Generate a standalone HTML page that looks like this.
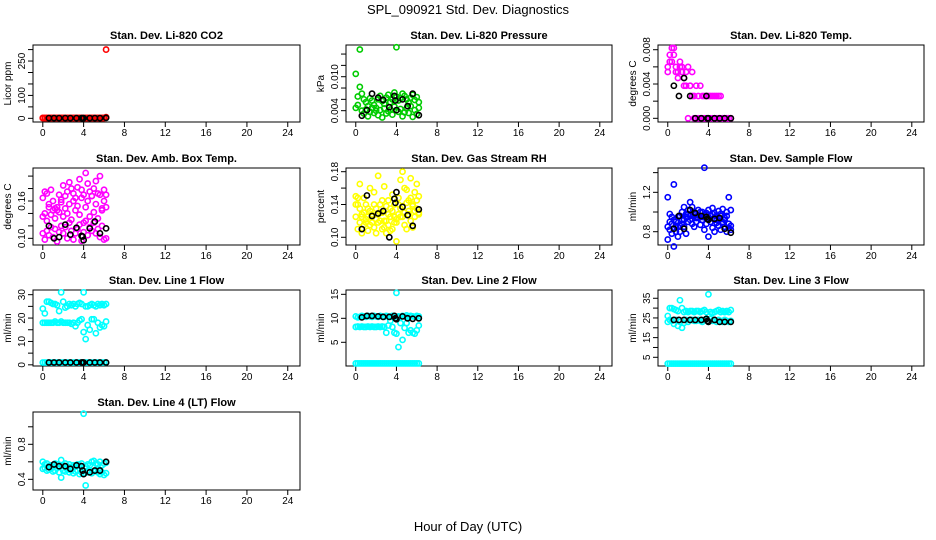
<!DOCTYPE html>
<html><head><meta charset="utf-8">
<style>
html,body{margin:0;padding:0;background:#fff;}
svg{display:block;font-family:"Liberation Sans",sans-serif;}
</style></head>
<body>
<svg id="chart" width="936" height="540" viewBox="0 0 936 540" xmlns="http://www.w3.org/2000/svg">
<rect x="0" y="0" width="936" height="540" fill="#fff"/>
<text x="468" y="14" font-size="13" text-anchor="middle">SPL_090921  Std. Dev. Diagnostics</text>
<text x="468" y="531" font-size="13" text-anchor="middle">Hour of Day (UTC)</text>
</svg>
<script>
const T=[0.0,0.2,0.4,0.6,0.8,1.0,1.2,1.4,1.6,1.8,2.0,2.2,2.4,2.6,2.8,3.0,3.2,3.4,3.6,3.8,4.0,4.2,4.4,4.6,4.8,5.0,5.2,5.4,5.6,5.8,6.0,6.2];
const TB=[0.6,1.1,1.6,2.2,2.7,3.3,3.8,3.9,4.0,4.6,5.1,5.6,6.2];
const xTicks=[0,4,8,12,16,20,24];

const co2S1=[1,1,1,1,1,1,1,1,1,1,1,1,1,1,1,1,1,1,1,1,1,1,1,1,1,1,1,1,1,1,1,300];
const co2S2=[2,2,2,2,2,2,2,2,2,2,2,2,2,2,2,2,2,2,2,2,2,2,2,2,2,2,2,2,2,2,2,5];
const co2B=[1,1,1,1,1,1,1,1,1,1,1,1,2];

const presS1=[0.0105,0.0065,0.0082,0.0070,0.0060,0.0055,0.0048,0.0062,0.0058,0.0050,0.0045,0.0060,0.0066,0.0057,0.0052,0.0063,0.0068,0.0055,0.0060,0.0072,0.0065,0.0058,0.0062,0.0070,0.0066,0.0060,0.0054,0.0063,0.0068,0.0059,0.0064,0.0055];
const presS2=[0.0045,0.0050,0.0148,0.0040,0.0035,0.0042,0.0030,0.0038,0.0045,0.0036,0.0040,0.0032,0.0041,0.0028,0.0044,0.0035,0.0039,0.0042,0.0033,0.0047,0.0152,0.0038,0.0043,0.0030,0.0037,0.0044,0.0036,0.0048,0.0029,0.0041,0.0034,0.0045];
const presB=[0.0031,0.0041,0.0070,0.0063,0.0059,0.0046,0.0066,0.0058,0.0041,0.0060,0.0048,0.0070,0.0032];

const tempS1=[0.0054,0.0074,0.0066,0.0082,0.0060,0.0054,0.0066,0.0060,0.0047,0.0054,0.0060,0.0038,0.0054,0.0026,0.0038,0.0026,0.0038,0.0026,0.0026,0.0026,0.0026,0.0026,0.0026,0.0026,0.0026,0.0026,0.0026,0,0,0,0,0];
const tempS2=[0.0060,0.0066,0.0082,0.0074,0.0054,0.0047,0.0060,0.0054,0.0038,0.0038,0,0.0038,0.0026,0,0,0,0,0,0,0,0,0,0,0,0,0,0,0,0,0,0,0];
const tempB=[0.0038,0.0026,0.0047,0.0026,0,0,0.0026,0,0,0,0,0,0];

const ambS1=[0.165,0.175,0.172,0.150,0.178,0.160,0.148,0.145,0.170,0.162,0.185,0.168,0.175,0.190,0.180,0.172,0.165,0.182,0.195,0.178,0.170,0.205,0.188,0.175,0.168,0.180,0.192,0.172,0.200,0.145,0.178,0.170];
const ambS2=[0.108,0.098,0.112,0.105,0.118,0.102,0.115,0.095,0.110,0.120,0.108,0.118,0.100,0.125,0.112,0.098,0.108,0.115,0.122,0.096,0.110,0.128,0.105,0.118,0.112,0.125,0.108,0.115,0.102,0.120,0.098,0.100];
const ambS3=[0.135,0.140,0.128,0.155,0.138,0.145,0.132,0.150,0.142,0.158,0.135,0.148,0.140,0.155,0.130,0.160,0.145,0.152,0.138,0.165,0.125,0.150,0.160,0.135,0.168,0.142,0.155,0.132,0.170,0.148,0.160,0.150];
const ambB=[0.120,0.100,0.102,0.122,0.106,0.117,0.104,0.103,0.097,0.116,0.127,0.108,0.116];

const rhS1=[0.150,0.140,0.165,0.125,0.148,0.118,0.135,0.160,0.128,0.155,0.122,0.175,0.140,0.130,0.162,0.120,0.145,0.135,0.152,0.125,0.095,0.140,0.170,0.180,0.130,0.158,0.145,0.172,0.138,0.155,0.165,0.150];
const rhS2=[0.125,0.110,0.118,0.105,0.130,0.122,0.108,0.115,0.125,0.112,0.105,0.118,0.130,0.110,0.120,0.105,0.115,0.125,0.110,0.118,0.122,0.128,0.135,0.125,0.115,0.110,0.132,0.120,0.112,0.125,0.135,0.128];
const rhS3=[0.140,0.148,0.135,0.128,0.115,0.140,0.125,0.132,0.118,0.140,0.135,0.128,0.120,0.145,0.112,0.138,0.128,0.108,0.132,0.140,0.118,0.148,0.125,0.138,0.160,0.142,0.128,0.148,0.140,0.132,0.145,0.130];
const rhB=[0.110,0.151,0.126,0.129,0.132,0.100,0.147,0.142,0.155,0.137,0.127,0.114,0.134];

const sfS1=[1.15,0.98,0.95,1.28,0.90,0.85,0.96,1.00,0.92,0.98,1.02,1.10,1.05,1.00,0.98,1.02,0.95,1.00,1.45,0.93,1.02,0.97,1.04,0.99,0.92,1.01,0.96,1.03,0.94,1.00,1.15,1.02];
const sfS2=[0.72,0.82,0.78,0.65,0.86,0.75,0.80,0.88,0.85,0.78,0.90,0.92,0.88,0.85,0.90,0.94,0.87,0.92,0.82,0.88,0.75,0.90,0.84,0.80,0.89,0.86,0.82,0.88,0.85,0.80,0.84,0.82];
const sfS3=[0.85,0.90,0.88,0.92,0.80,0.95,0.86,0.92,1.05,0.95,0.98,0.96,0.93,0.98,0.94,0.97,1.00,0.95,0.97,0.99,0.93,0.96,0.98,0.92,0.96,0.94,0.98,0.90,0.92,0.96,0.88,0.86];
const sfB=[0.83,0.96,0.83,1.02,0.99,0.96,0.95,0.93,0.92,0.93,0.94,0.83,0.79];

const l1S1=[1,1,1,1,1,1,1,1,1,1,1,1,1,1,1,1,1,1,1,1,1,1,1,1,1,1,1,1,1,1,1,1];
const l1S2=[18,18,18,18,18,18,18.5,18,18,18.5,18,18,18,18,17.5,18,16.5,18,19,19.5,14,11,17,15,19.5,19.5,13.5,18,16,17,16.5,18.5];
const l1S3=[24,22,27,27,26.5,26,26,25.5,23,31,27,24.5,25,26,25.5,26,25,26,26.5,26,31,25,25,25.5,26,25.5,25,26,25.5,26,25.5,26];
const l1B=[1,1,1,1,1,1,1,1,1,1,1,1,1];

const l2S1=[0.6,0.6,0.6,0.6,0.6,0.6,0.6,0.6,0.6,0.6,0.6,0.6,0.6,0.6,0.6,0.6,0.6,0.6,0.6,0.6,0.6,0.6,0.6,0.6,0.6,0.6,0.6,0.6,0.6,0.6,0.6,0.6];
const l2S2=[8.2,8.3,8.2,8.3,8.2,8.2,8.3,8.2,8.3,8.2,8.2,8.3,8.2,8.3,8.2,7.0,8.5,9.5,8.2,7.0,6.8,4.0,9.0,5.5,8.0,9.0,7.0,7.5,7.0,6.8,7.5,8.5];
const l2S3=[10.4,10.2,10.3,10.5,10.4,10.3,10.5,10.4,10.3,10.5,10.4,10.3,10.5,10.4,10.3,10.5,10.4,10.3,10.5,10.3,15.3,10.4,10.3,10.5,10.4,10.6,10.3,10.5,10.4,10.3,10.5,10.4];
const l2B=[10.2,10.5,10.5,10.4,10.3,10.3,10.5,10.0,9.8,10.4,10.0,9.9,10.0];

const l3S1=[1.8,1.8,1.8,1.8,1.8,1.8,1.8,1.8,1.8,1.8,1.8,1.8,1.8,1.8,1.8,1.8,1.8,1.8,1.8,1.8,1.8,1.8,1.8,1.8,1.8,1.8,1.8,1.8,1.8,1.8,1.8,1.8];
const l3S2=[26,30,30,29.5,29,28.5,34,30,28,28.5,28,28.5,28.5,28,28.5,28.5,28,28.5,29,28,37,28,27.5,28,28.5,29,28,28.5,28,28.5,28,29];
const l3S3=[23,24,23.5,22,24,21,23,20,22.5,24,23,24,24,23.5,23.5,24,23.5,23,24,24.5,23,24.5,23.5,24,23,24,23.5,23,24,23.5,23,23.5];
const l3B=[24,24,24,24,24,24,24.5,23.5,23,24,23,23,23];

const l4S1=[0.60,0.57,0.58,0.55,0.56,0.54,0.58,0.57,0.55,0.62,0.56,0.58,0.55,0.57,0.54,0.56,0.55,0.57,0.56,0.58,1.15,0.55,0.57,0.56,0.60,0.61,0.58,0.57,0.60,0.56,0.58,0.59];
const l4S2=[0.52,0.53,0.50,0.51,0.52,0.49,0.50,0.53,0.48,0.42,0.50,0.49,0.51,0.48,0.50,0.47,0.49,0.50,0.46,0.48,0.47,0.33,0.48,0.50,0.47,0.49,0.50,0.48,0.46,0.48,0.45,0.47];
const l4B=[0.54,0.57,0.55,0.55,0.52,0.56,0.55,0.50,0.46,0.48,0.50,0.50,0.60];

const panels=[
 {name:'co2',title:'Stan. Dev. Li-820 CO2',yl:'Licor ppm',col:0,row:0,ymin:-16,ymax:320,ticks:[0,50,100,150,200,250,300],labels:[0,100,250],color:'#ff0000',series:[co2S1,co2S2],black:co2B},
 {name:'pressure',title:'Stan. Dev. Li-820 Pressure',yl:'kPa',col:1,row:0,ymin:0.002,ymax:0.0156,ticks:[0.004,0.006,0.008,0.010,0.012,0.014],labels:['0.004','0.010'],color:'#00cc00',series:[presS1,presS2],black:presB},
 {name:'li820-temp',title:'Stan. Dev. Li-820 Temp.',yl:'degrees C',col:2,row:0,ymin:-0.00043,ymax:0.00855,ticks:[0,0.002,0.004,0.006,0.008],labels:['0.000','0.004','0.008'],color:'#ff00ff',series:[tempS1,tempS2],black:tempB},
 {name:'amb-box-temp',title:'Stan. Dev. Amb. Box Temp.',yl:'degrees C',col:0,row:1,ymin:0.0893,ymax:0.213,ticks:[0.10,0.12,0.14,0.16,0.18,0.20],labels:['0.10','0.16'],color:'#ff00ff',series:[ambS1,ambS2,ambS3],black:ambB},
 {name:'gas-stream-rh',title:'Stan. Dev. Gas Stream RH',yl:'percent',col:1,row:1,ymin:0.0906,ymax:0.1845,ticks:[0.10,0.12,0.14,0.16,0.18],labels:['0.10','0.14','0.18'],color:'#ffff00',series:[rhS1,rhS2,rhS3],black:rhB},
 {name:'sample-flow',title:'Stan. Dev. Sample Flow',yl:'ml/min',col:2,row:1,ymin:0.665,ymax:1.447,ticks:[0.8,1.0,1.2,1.4],labels:['0.8','1.2'],color:'#0000ff',series:[sfS1,sfS2,sfS3],black:sfB},
 {name:'line1-flow',title:'Stan. Dev. Line 1 Flow',yl:'ml/min',col:0,row:2,ymin:-0.5,ymax:32,ticks:[0,5,10,15,20,25,30],labels:[0,10,20,30],color:'#00ffff',series:[l1S1,l1S2,l1S3],black:l1B},
 {name:'line2-flow',title:'Stan. Dev. Line 2 Flow',yl:'ml/min',col:1,row:2,ymin:0.06,ymax:15.9,ticks:[5,10,15],labels:[5,10,15],color:'#00ffff',series:[l2S1,l2S2,l2S3],black:l2B},
 {name:'line3-flow',title:'Stan. Dev. Line 3 Flow',yl:'ml/min',col:2,row:2,ymin:0.58,ymax:39.2,ticks:[5,10,15,20,25,30,35],labels:[5,15,25,35],color:'#00ffff',series:[l3S1,l3S2,l3S3],black:l3B},
 {name:'line4-flow',title:'Stan. Dev. Line 4 (LT) Flow',yl:'ml/min',col:0,row:3,ymin:0.278,ymax:1.169,ticks:[0.4,0.6,0.8,1.0],labels:['0.4','0.8'],color:'#00ffff',series:[l4S1,l4S2],black:l4B}
];

const NS='http://www.w3.org/2000/svg';
const svg=document.getElementById('chart');
const colL=[33,346,658], colR=[300,612,924];
const rowT=[45,168,290,412], rowB=[122,245,366,490];
function mk(tag,attrs,parent){const e=document.createElementNS(NS,tag);for(const k in attrs)e.setAttribute(k,attrs[k]);(parent||svg).appendChild(e);return e;}

panels.forEach(p=>{
  const L=colL[p.col],R=colR[p.col],Tp=rowT[p.row],B=rowB[p.row];
  const xs=v=>L+(v+0.96)/(25.2+0.96)*(R-L);
  const ys=v=>B-(v-p.ymin)/(p.ymax-p.ymin)*(B-Tp);
  const g=mk('g',{});
  
  
  const box=mk('rect',{x:L,y:Tp,width:R-L,height:B-Tp,fill:'none',stroke:'#000','stroke-width':1},g);
  
  
  const t=mk('text',{x:(L+R)/2,y:Tp-6,'font-size':11,'font-weight':'bold','text-anchor':'middle'},g);
  t.textContent=p.title;
  
  
  const yl=mk('text',{x:0,y:0,'font-size':10,'text-anchor':'middle',transform:`translate(${L-22},${(Tp+B)/2}) rotate(-90)`},g);
  yl.textContent=p.yl;
  
  
  const xa=mk('g',{},g);
  
  
  mk('line',{x1:xs(0),x2:xs(24),y1:B,y2:B,stroke:'#000'},xa);
  xTicks.forEach(v=>{
    mk('line',{x1:xs(v),x2:xs(v),y1:B,y2:B+5,stroke:'#000'},xa);
    const tl=mk('text',{x:xs(v),y:B+14,'font-size':10,'text-anchor':'middle'},xa);
    tl.textContent=v;
    
    
  });
  const ya=mk('g',{},g);
  
  
  p.ticks.forEach(v=>{mk('line',{x1:L-5,x2:L,y1:ys(v),y2:ys(v),stroke:'#000'},ya);});
  p.labels.forEach(v=>{
    const tl=mk('text',{x:0,y:0,'font-size':10,'text-anchor':'middle',transform:`translate(${L-8},${ys(+v)}) rotate(-90)`},ya);
    tl.textContent=v;
    
    
  });
  const pts=mk('g',{},g);
  
  
  p.series.forEach(s=>{
    s.forEach((v,i)=>{
      const c=mk('circle',{cx:xs(T[i]),cy:ys(v),r:2.6,fill:'none',stroke:p.color,'stroke-width':1.6},pts);
      
      
    });
  });
  p.black.forEach((v,i)=>{
    const c=mk('circle',{cx:xs(TB[i]),cy:ys(v),r:2.6,fill:'none',stroke:'#000','stroke-width':1.6},pts);
    
    
  });
});
</script>
</body></html>
